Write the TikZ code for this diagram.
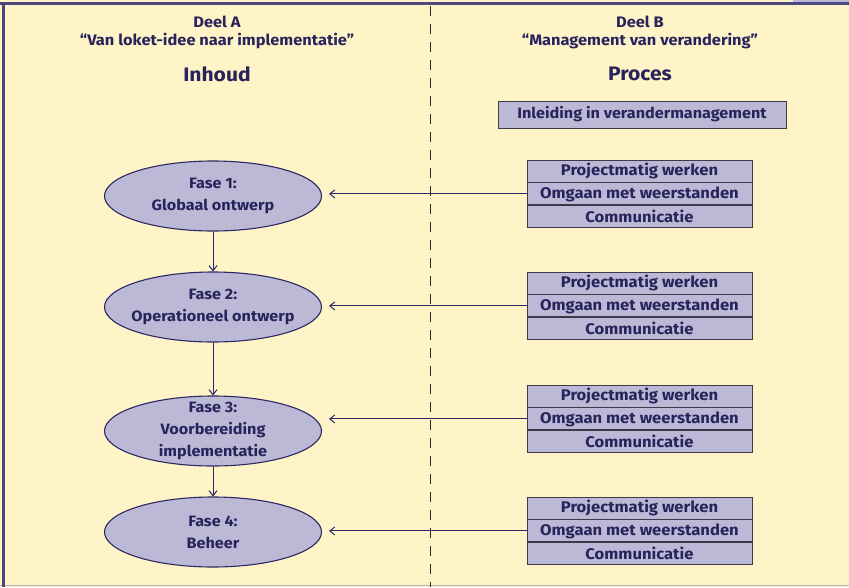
\documentclass[tikz,border=0pt]{standalone}
\usepackage{fontspec}
\setmainfont{Fira Sans}[FakeStretch=1.08]
\usetikzlibrary{shapes.geometric,arrows.meta,calc}
\definecolor{bgyellow}{HTML}{FFF3C8}
\definecolor{navy}{HTML}{2C2866}
\definecolor{txt}{HTML}{29235C}
\definecolor{lav}{HTML}{BBB9D5}
\definecolor{boxline}{HTML}{3A3A48}
\tikzset{
  every node/.style={font=\bfseries, text=txt},
  hdr/.style={font=\bfseries\fontsize{15.2}{18}\selectfont, align=center},
  big/.style={font=\bfseries\fontsize{19.5}{22}\selectfont},
  fase/.style={ellipse, draw=navy, line width=1.1pt, fill=lav, minimum width=217pt, minimum height=70pt, inner xsep=-14pt, inner ysep=-6pt, align=center, font=\bfseries\fontsize{15}{22}\selectfont},
  rowbox/.style={rectangle, draw=boxline, line width=0.9pt, fill=lav, minimum width=225pt, minimum height=22pt, inner sep=0pt, font=\bfseries\fontsize{15.4}{16}\selectfont},
  introbox/.style={rectangle, draw=boxline, line width=0.9pt, fill=lav, minimum width=288pt, minimum height=27pt, inner sep=0pt, font=\bfseries\fontsize{15}{16}\selectfont},
  conn/.style={draw=navy, line width=1pt, -{Straight Barb[length=5pt,width=8pt]}},
}
\begin{document}
\begin{tikzpicture}[x=1pt,y=-1pt]
\useasboundingbox (0,0) rectangle (849,587);
\fill[bgyellow] (0,0) rectangle (849,587);
\fill[lav] (793,0) rectangle (849,3);
\draw[gray!60, line width=1.2pt] (0,585.5) -- (849,585.5);
\draw[navy!85, line width=2.2pt] (0,3.5) -- (849,3.5);
\draw[navy!85, line width=2.2pt] (3.5,3) -- (3.5,587);
\draw[black!85, line width=1pt, dash pattern=on 10pt off 8pt] (430,6) -- (430,587);

\node[hdr] (ha) at (217,32) {Deel A\\“Van loket-idee naar implementatie”};
\node[hdr] (hb) at (640,32) {Deel B\\“Management van verandering”};
\node[big] (inh) at (217,74) {Inhoud};
\node[big] (pro) at (640,74) {Proces};

\node[introbox] (intro) at (642,114.5) {Inleiding in verandermanagement};

\node[fase] (f1) at (213,196) {Fase 1:\\Globaal ontwerp};
\node[fase] (f2) at (213,307) {Fase 2:\\Operationeel ontwerp};
\node[fase] (f3) at (213,431) {Fase 3:\\Voorbereiding\\implementatie};
\node[fase] (f4) at (213,532) {Fase 4:\\Beheer};

\foreach \i/\y in {1/171,2/283,3/396,4/508}{
  \node[rowbox] (p\i) at (639.5,\y) {\raisebox{-1pt}{Projectmatig werken}};
  \node[rowbox, anchor=north] (o\i) at (p\i.south) {\raisebox{-1pt}{Omgaan met weerstanden}};
  \node[rowbox, anchor=north] (c\i) at (o\i.south) {\raisebox{-1pt}{Communicatie}};
  \coordinate (t\i) at ($(f\i.east)+(7,0)$);
}

\foreach \i in {1,2,3,4}{
  \draw[conn] (o\i.west) -- (o\i.west -| t\i);
}
\draw[conn] (f1) -- (f2);
\draw[conn] (f2) -- (f3);
\draw[conn] (f3) -- (f4);
\end{tikzpicture}
\end{document}
